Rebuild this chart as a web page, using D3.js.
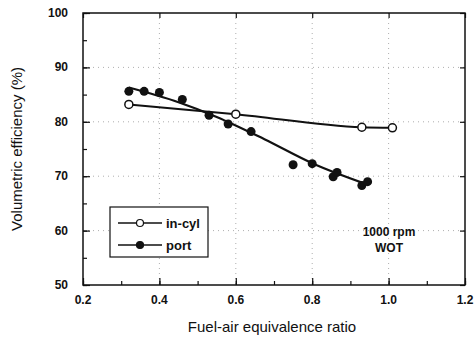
<!DOCTYPE html>
<html>
<head>
<meta charset="utf-8">
<script src="https://cdn.jsdelivr.net/npm/d3@7"></script>
<style>
  body { margin: 0; background: #fff; }
  svg text { font-family: "Liberation Sans", Arial, sans-serif; fill: #111; }
  .tick-label { font-size: 12px; font-weight: bold; }
  .axis-title { font-size: 15px; }
</style>
</head>
<body>
<div id="chart"></div>
<script>
// equivalence ratio / volumetric efficiency readings
const inCylPhi = [0.32, 0.60, 0.93, 1.01];
const inCylVe = [83.2, 81.4, 79.0, 78.9];

const portPhi = [0.32, 0.36, 0.40, 0.46, 0.53, 0.58, 0.64, 0.75, 0.80, 0.855, 0.865, 0.93, 0.945];
const portVe = [85.6, 85.6, 85.4, 84.1, 81.2, 79.6, 78.2, 72.1, 72.3, 69.9, 70.7, 68.3, 69.0];

// hand-drawn fit curve through the port data
const portFitPhi = [0.32, 0.45, 0.55, 0.675, 0.80, 0.94];
const portFitVe = [86.3, 83.6, 80.9, 76.8, 72.4, 68.6];

const xTicks = [0.2, 0.4, 0.6, 0.8, 1.0, 1.2];
const yTicks = [50, 60, 70, 80, 90, 100];

const width = 474, height = 340;
const plotLeft = 83, plotRight = 465, plotTop = 13, plotBottom = 285;

const svg = d3.select('#chart').append('svg')
  .attr('width', width)
  .attr('height', height);

const x = d3.scaleLinear().domain([0.2, 1.2]).range([plotLeft, plotRight]);
const y = d3.scaleLinear().domain([50, 100]).range([plotBottom, plotTop]);

// dotted grid
const grid = svg.append('g')
  .attr('stroke', '#999')
  .attr('stroke-width', 0.8)
  .attr('stroke-dasharray', '1,4');
grid.selectAll('line.v')
  .data(xTicks.slice(1, -1))
  .enter().append('line')
  .attr('x1', d => x(d)).attr('x2', d => x(d))
  .attr('y1', plotTop).attr('y2', plotBottom);
grid.selectAll('line.h')
  .data(yTicks.slice(1, -1))
  .enter().append('line')
  .attr('x1', plotLeft).attr('x2', plotRight)
  .attr('y1', d => y(d)).attr('y2', d => y(d));

// axes with inward ticks
const xMinor = d3.range(0.2, 1.2001, 0.1);
const yMinor = d3.range(50, 100.001, 5);

svg.append('g')
  .attr('transform', `translate(0,${plotBottom})`)
  .call(d3.axisTop(x).tickValues(xMinor).tickSize(4).tickFormat(''))
  .call(g => g.select('.domain').remove());
svg.append('g')
  .attr('transform', `translate(0,${plotBottom})`)
  .call(d3.axisTop(x).tickValues(xTicks).tickSize(7).tickFormat(''))
  .call(g => g.select('.domain').remove());
svg.append('g')
  .attr('transform', `translate(0,${plotTop})`)
  .call(d3.axisBottom(x).tickValues(xTicks).tickSize(5).tickFormat(''))
  .call(g => g.select('.domain').remove());

svg.append('g')
  .attr('transform', `translate(${plotLeft},0)`)
  .call(d3.axisRight(y).tickValues(yMinor).tickSize(4).tickFormat(''))
  .call(g => g.select('.domain').remove());
svg.append('g')
  .attr('transform', `translate(${plotLeft},0)`)
  .call(d3.axisRight(y).tickValues(yTicks).tickSize(7).tickFormat(''))
  .call(g => g.select('.domain').remove());
svg.append('g')
  .attr('transform', `translate(${plotRight},0)`)
  .call(d3.axisLeft(y).tickValues(yTicks).tickSize(5).tickFormat(''))
  .call(g => g.select('.domain').remove());

svg.selectAll('.tick line').attr('stroke', '#111').attr('stroke-width', 1.2);

// frame
svg.append('rect')
  .attr('x', plotLeft).attr('y', plotTop)
  .attr('width', plotRight - plotLeft).attr('height', plotBottom - plotTop)
  .attr('fill', 'none')
  .attr('stroke', '#111')
  .attr('stroke-width', 1.5);

// tick labels
svg.selectAll('text.xl')
  .data(xTicks)
  .enter().append('text')
  .attr('class', 'tick-label')
  .attr('x', d => x(d))
  .attr('y', plotBottom + 19)
  .attr('text-anchor', 'middle')
  .text(d => d.toFixed(1));

svg.selectAll('text.yl')
  .data(yTicks)
  .enter().append('text')
  .attr('class', 'tick-label')
  .attr('x', plotLeft - 15)
  .attr('y', d => y(d) + 4)
  .attr('text-anchor', 'end')
  .text(d => d);

// axis titles
svg.append('text')
  .attr('class', 'axis-title')
  .attr('x', (plotLeft + plotRight) / 2 - 2)
  .attr('y', 332)
  .attr('text-anchor', 'middle')
  .text('Fuel-air equivalence ratio');

svg.append('text')
  .attr('class', 'axis-title')
  .attr('transform', `translate(22,${(plotTop + plotBottom) / 2}) rotate(-90)`)
  .attr('text-anchor', 'middle')
  .text('Volumetric efficiency (%)');

// lines
const line = d3.line().x(d => x(d[0])).y(d => y(d[1])).curve(d3.curveMonotoneX);

svg.append('path')
  .datum(d3.zip(inCylPhi, inCylVe))
  .attr('d', line)
  .attr('fill', 'none')
  .attr('stroke', '#111')
  .attr('stroke-width', 2);

svg.append('path')
  .datum(d3.zip(portFitPhi, portFitVe))
  .attr('d', line)
  .attr('fill', 'none')
  .attr('stroke', '#111')
  .attr('stroke-width', 2.2);

// markers
svg.selectAll('circle.port')
  .data(d3.zip(portPhi, portVe))
  .enter().append('circle')
  .attr('cx', d => x(d[0]))
  .attr('cy', d => y(d[1]))
  .attr('r', 4.5)
  .attr('fill', '#111');

svg.selectAll('circle.incyl')
  .data(d3.zip(inCylPhi, inCylVe))
  .enter().append('circle')
  .attr('cx', d => x(d[0]))
  .attr('cy', d => y(d[1]))
  .attr('r', 4)
  .attr('fill', '#fff')
  .attr('stroke', '#111')
  .attr('stroke-width', 1.5);

// legend
const legend = svg.append('g').attr('transform', 'translate(110,207)');
legend.append('rect')
  .attr('width', 98).attr('height', 50)
  .attr('fill', '#fff')
  .attr('stroke', '#111')
  .attr('stroke-width', 1.2);
const legendItems = [
  { label: 'in-cyl', fill: '#fff', dy: 16 },
  { label: 'port', fill: '#111', dy: 38 }
];
legendItems.forEach(item => {
  legend.append('line')
    .attr('x1', 8).attr('x2', 52)
    .attr('y1', item.dy).attr('y2', item.dy)
    .attr('stroke', '#111').attr('stroke-width', 1.5);
  legend.append('circle')
    .attr('cx', 30).attr('cy', item.dy).attr('r', 3.5)
    .attr('fill', item.fill)
    .attr('stroke', '#111').attr('stroke-width', 1.2);
  legend.append('text')
    .attr('x', 56).attr('y', item.dy + 5)
    .style('font-size', '13px')
    .style('font-weight', 'bold')
    .text(item.label);
});

// annotation
svg.append('text')
  .attr('x', 389).attr('y', 236)
  .attr('text-anchor', 'middle')
  .style('font-size', '12px')
  .style('font-weight', 'bold')
  .text('1000 rpm');
svg.append('text')
  .attr('x', 389).attr('y', 252)
  .attr('text-anchor', 'middle')
  .style('font-size', '12px')
  .style('font-weight', 'bold')
  .text('WOT');
</script>
</body>
</html>
